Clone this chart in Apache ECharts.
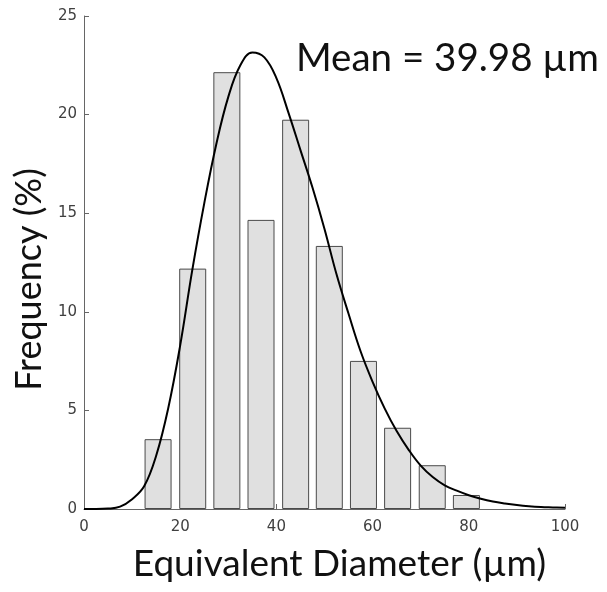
<!DOCTYPE html>
<html>
<head>
<meta charset="utf-8">
<script src="https://cdn.jsdelivr.net/npm/echarts@6/dist/echarts.min.js"></script>
<style>
  html, body { margin: 0; padding: 0; background: #fff; }
  #chart { width: 607px; height: 592px; }
</style>
</head>
<body>
<div id="chart"></div>
<script>
// histogram bins (bin centres, µm) and frequencies (%)
const binCenters = [15.4, 22.6, 29.7, 36.8, 44.0, 51.0, 58.1, 65.2, 72.4, 79.5];
const binFreq = [3.54, 12.19, 22.15, 14.66, 19.74, 13.34, 7.51, 4.12, 2.22, 0.71];

// fitted distribution curve, every 2.5 µm
const fitX = [0, 2.5, 5, 7.5, 10, 12.5, 15, 17.5, 20, 22.5, 25, 27.5, 30, 32.5, 35, 37.5, 40, 42.5, 45, 47.5, 50,
  52.5, 55, 57.5, 60, 62.5, 65, 67.5, 70, 72.5, 75, 77.5, 80, 82.5, 85, 87.5, 90, 92.5, 95, 97.5, 100];
const fitY = [0, 0, 0.02, 0.12, 0.5, 1.15, 2.7, 5.1, 8.3, 12.1, 15.5, 18.5, 20.9, 22.5, 23.15, 22.9, 21.85, 20.1, 18.2, 16.3, 14.2,
  11.9, 9.9, 8.0, 6.45, 5.1, 3.95, 3.0, 2.2, 1.62, 1.2, 0.93, 0.7, 0.52, 0.38, 0.28, 0.2, 0.14, 0.1, 0.08, 0.06];

const xTicks = [0, 20, 40, 60, 80, 100];
const yTicks = [0, 5, 10, 15, 20, 25];
const meanLabel = "Mean = 39.98 µm";

const chart = echarts.init(document.getElementById("chart"));

const axisColor = "#666";
const labelColor = "#404040";
const titleFont = "Lato, 'Open Sans', sans-serif";
const tickFont = "'DejaVu Sans', sans-serif";

chart.setOption({
  animation: false,
  grid: { left: 84, right: 42, top: 16, bottom: 83, outerBoundsMode: "none" },
  title: {
    text: meanLabel,
    right: 3,
    top: 34,
    textStyle: { fontFamily: titleFont, fontSize: 38.5, fontWeight: "normal", color: "#111" },
  },
  xAxis: {
    type: "value",
    min: xTicks[0],
    max: xTicks[xTicks.length - 1],
    interval: 20,
    name: "Equivalent Diameter (µm)",
    nameLocation: "middle",
    nameGap: 37,
    nameTextStyle: { fontFamily: titleFont, fontSize: 37, color: "#111", verticalAlign: "top", padding: [0, 0, 0, 30] },
    axisLine: { lineStyle: { color: axisColor, width: 1 } },
    axisTick: { inside: true, length: 5, lineStyle: { color: axisColor } },
    axisLabel: { color: labelColor, fontSize: 15, fontFamily: tickFont, margin: 11 },
    splitLine: { show: false },
  },
  yAxis: {
    type: "value",
    min: yTicks[0],
    max: yTicks[yTicks.length - 1],
    interval: 5,
    name: "Frequency (%)",
    nameLocation: "middle",
    nameGap: 34,
    nameTextStyle: { fontFamily: titleFont, fontSize: 36, color: "#111", padding: [0, 34, 0, 0] },
    axisLine: { show: true, lineStyle: { color: axisColor, width: 1 } },
    axisTick: { show: true, inside: true, length: 5, lineStyle: { color: axisColor } },
    axisLabel: { color: labelColor, fontSize: 15, fontFamily: tickFont, margin: 7 },
    splitLine: { show: false },
  },
  series: [
    {
      type: "bar",
      barWidth: 27,
      data: binCenters.map((x, i) => [x, binFreq[i]]),
      itemStyle: { color: "#e0e0e0", borderColor: "#4a4a4a", borderWidth: 1 },
      z: 2,
    },
    {
      type: "line",
      smooth: 0.4,
      showSymbol: false,
      data: fitX.map((x, i) => [x, fitY[i]]),
      lineStyle: { color: "#000", width: 2 },
      z: 3,
    },
  ],
});
</script>
</body>
</html>
